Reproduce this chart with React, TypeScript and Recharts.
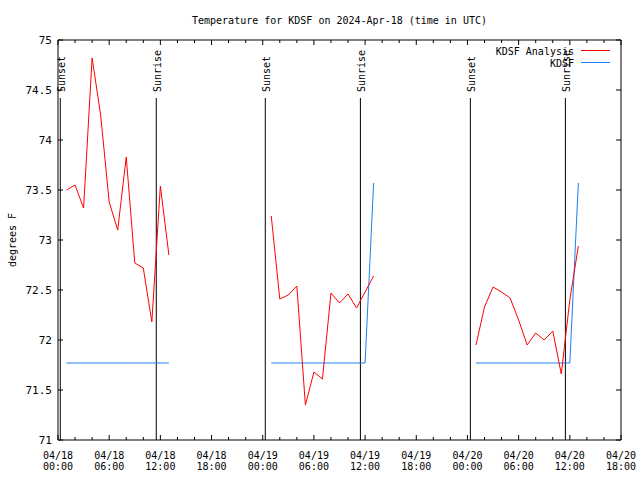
import React from 'react';
import { ComposedChart, Line, XAxis, YAxis, ReferenceLine, ReferenceArea, Legend } from 'recharts';

// ---- data ----
const hours = [
  1, 2, 3, 4, 5, 6, 7, 8, 9, 10, 11, 12, 13,
  25, 26, 27, 28, 29, 30, 31, 32, 33, 34, 35, 36, 37,
  49, 50, 51, 52, 53, 54, 55, 56, 57, 58, 59, 60, 61,
];
const analysisValues = [
  73.50, 73.55, 73.32, 74.82, 74.25, 73.38, 73.10, 73.83, 72.77, 72.72, 72.18, 73.54, 72.85,
  73.24, 72.41, 72.45, 72.54, 71.35, 71.68, 71.61, 72.47, 72.37, 72.46, 72.32, 72.48, 72.64,
  71.95, 72.33, 72.53, 72.48, 72.42, 72.20, 71.95, 72.07, 72.00, 72.09, 71.66, 72.40, 72.94,
];
const kdsfValues = [
  71.77, 71.77, 71.77, 71.77, 71.77, 71.77, 71.77, 71.77, 71.77, 71.77, 71.77, 71.77, 71.77,
  71.77, 71.77, 71.77, 71.77, 71.77, 71.77, 71.77, 71.77, 71.77, 71.77, 71.77, 71.77, 73.57,
  71.77, 71.77, 71.77, 71.77, 71.77, 71.77, 71.77, 71.77, 71.77, 71.77, 71.77, 71.77, 73.57,
];
const sunsetHours = [0.27, 24.3, 48.34];
const sunriseHours = [11.52, 35.45, 59.48];
const sunLineTop = 74.42;

const xTicks = [0, 2, 4, 6, 8, 10, 12, 14, 16, 18, 20, 22, 24, 26, 28, 30, 32, 34, 36, 38, 40, 42, 44, 46, 48, 50, 52, 54, 56, 58, 60, 62, 64, 66];
const xMajorTicks = [0, 6, 12, 18, 24, 30, 36, 42, 48, 54, 60, 66];
const xTickDates = ['04/18', '04/18', '04/18', '04/18', '04/19', '04/19', '04/19', '04/19', '04/20', '04/20', '04/20', '04/20'];
const xTickTimes = ['00:00', '06:00', '12:00', '18:00', '00:00', '06:00', '12:00', '18:00', '00:00', '06:00', '12:00', '18:00'];
const yTicks = [71, 71.5, 72, 72.5, 73, 73.5, 74, 74.5, 75];
const yTickLabels = ['71', '71.5', '72', '72.5', '73', '73.5', '74', '74.5', '75'];

const TITLE = 'Temperature for KDSF on 2024-Apr-18 (time in UTC)';
const SERIES_ANALYSIS = 'KDSF Analysis';
const SERIES_KDSF = 'KDSF';

// build table with null rows to break segments
const data: Array<{ h: number; analysis: number | null; kdsf: number | null }> = [];
hours.forEach((h, i) => {
  if (i > 0 && h - hours[i - 1] > 1) {
    data.push({ h: hours[i - 1] + 1, analysis: null, kdsf: null });
  }
  data.push({ h, analysis: analysisValues[i], kdsf: kdsfValues[i] });
});

// ---- layout ----
const W = 640;
const H = 480;
const PLOT_LEFT = 58;
const PLOT_RIGHT = 621;
const PLOT_TOP = 40;
const PLOT_BOTTOM = 440;
const FONT = 'DejaVu Sans Mono';
const RED = '#ff0000';
const BLUE = '#1a82f0';

const XTick = (props: any) => {
  const { x, payload } = props;
  const v = payload.value;
  const mi = xMajorTicks.indexOf(v);
  const len = mi >= 0 ? 5 : 3;
  return (
    <g>
      <line x1={x} x2={x} y1={PLOT_BOTTOM} y2={PLOT_BOTTOM - len} stroke="#000" />
      <line x1={x} x2={x} y1={PLOT_TOP} y2={PLOT_TOP + len} stroke="#000" />
      {mi >= 0 && (
        <text x={x} y={458.5} textAnchor="middle" fontFamily={FONT} fontSize={10} fill="#000">
          {xTickDates[mi]}
        </text>
      )}
      {mi >= 0 && (
        <text x={x} y={470} textAnchor="middle" fontFamily={FONT} fontSize={10} fill="#000">
          {xTickTimes[mi]}
        </text>
      )}
    </g>
  );
};

const YTick = (props: any) => {
  const { y, payload } = props;
  const idx = yTicks.indexOf(payload.value);
  return (
    <g>
      <line x1={PLOT_LEFT} x2={PLOT_LEFT + 5} y1={y} y2={y} stroke="#000" />
      <line x1={PLOT_RIGHT} x2={PLOT_RIGHT - 5} y1={y} y2={y} stroke="#000" />
      <text x={52} y={y + 4} textAnchor="end" fontFamily={FONT} fontSize={11} fill="#000">
        {idx >= 0 ? yTickLabels[idx] : payload.value}
      </text>
    </g>
  );
};

const sunLabel = (text: string) => (props: any) => {
  const vb = props.viewBox || {};
  const x = vb.x;
  return (
    <text
      transform={`translate(${x + 1.5}, 92) rotate(-90)`}
      textAnchor="start"
      dominantBaseline="central"
      fontFamily={FONT}
      fontSize={10}
      fill="#000"
    >
      {text}
    </text>
  );
};

const renderLegend = () => (
  <svg width={150} height={30} style={{ display: 'block' }}>
    <text x={94} y={15} textAnchor="end" fontFamily={FONT} fontSize={10} fill="#000">{SERIES_ANALYSIS}</text>
    <line x1={101} x2={130} y1={10.5} y2={10.5} stroke={RED} />
    <text x={94} y={26.5} textAnchor="end" fontFamily={FONT} fontSize={10} fill="#000">{SERIES_KDSF}</text>
    <line x1={101} x2={130} y1={22.5} y2={22.5} stroke={BLUE} />
  </svg>
);

export default function App() {
  return (
    <div style={{ position: 'absolute', left: 0, top: 0, width: W, height: H, background: '#fff' }}>
      <div
        style={{
          position: 'absolute',
          left: PLOT_LEFT,
          width: PLOT_RIGHT - PLOT_LEFT,
          top: 14,
          textAlign: 'center',
          fontFamily: FONT,
          fontSize: 10,
          lineHeight: '14px',
          color: '#000',
        }}
      >
        {TITLE}
      </div>
      <ComposedChart
        width={W}
        height={H}
        data={data}
        margin={{ top: PLOT_TOP, right: W - PLOT_RIGHT, left: 0, bottom: 0 }}
        style={{ position: 'absolute', left: 0, top: 0 }}
      >
        <XAxis
          dataKey="h"
          type="number"
          domain={[0, 66]}
          ticks={xTicks}
          interval={0}
          height={H - PLOT_BOTTOM}
          axisLine={false}
          tickLine={false}
          tickSize={0}
          tickMargin={0}
          tick={<XTick />}
          allowDataOverflow
        />
        <YAxis
          type="number"
          domain={[71, 75]}
          ticks={yTicks}
          interval={0}
          width={PLOT_LEFT}
          axisLine={false}
          tickLine={false}
          tickSize={0}
          tickMargin={0}
          tick={<YTick />}
          allowDataOverflow
          label={{
            content: (p: any) => {
              const vb = p.viewBox || { x: 0, y: PLOT_TOP, height: PLOT_BOTTOM - PLOT_TOP };
              return (
                <text
                  transform={`translate(12, ${vb.y + vb.height / 2}) rotate(-90)`}
                  textAnchor="middle"
                  dominantBaseline="central"
                  fontFamily={FONT}
                  fontSize={10}
                  fill="#000"
                >
                  degrees F
                </text>
              );
            },
          }}
        />
        <ReferenceArea x1={0} x2={66} y1={71} y2={75} fill="none" stroke="#000" strokeWidth={1} ifOverflow="visible" />
        {sunsetHours.map((h, i) => (
          <ReferenceLine
            key={`ss${i}`}
            segment={[{ x: h, y: 71 }, { x: h, y: sunLineTop }]}
            stroke="#000"
            strokeWidth={1}
            label={{ content: sunLabel('Sunset') }}
          />
        ))}
        {sunriseHours.map((h, i) => (
          <ReferenceLine
            key={`sr${i}`}
            segment={[{ x: h, y: 71 }, { x: h, y: sunLineTop }]}
            stroke="#000"
            strokeWidth={1}
            label={{ content: sunLabel('Sunrise') }}
          />
        ))}
        <Line
          type="linear"
          dataKey="kdsf"
          name={SERIES_KDSF}
          stroke={BLUE}
          strokeWidth={1}
          dot={false}
          isAnimationActive={false}
          connectNulls={false}
        />
        <Line
          type="linear"
          dataKey="analysis"
          name={SERIES_ANALYSIS}
          stroke={RED}
          strokeWidth={1}
          dot={false}
          isAnimationActive={false}
          connectNulls={false}
        />
        <Legend
          layout="vertical"
          align="center"
          verticalAlign="middle"
          content={renderLegend}
          wrapperStyle={{ position: 'absolute', left: 480, top: 40, width: 150, height: 30 }}
        />
      </ComposedChart>
    </div>
  );
}
